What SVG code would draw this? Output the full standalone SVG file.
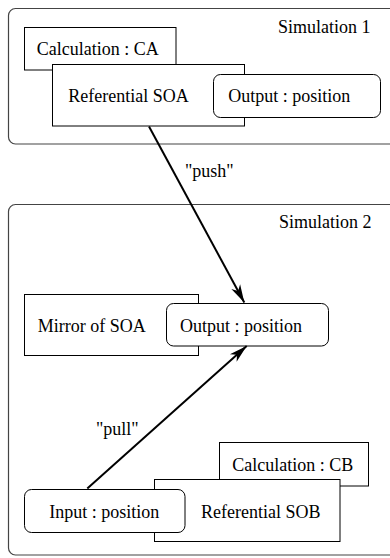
<svg xmlns="http://www.w3.org/2000/svg" width="390" height="558" viewBox="0 0 390 558">
<defs>
<style>
text{font-family:"Liberation Serif","Times New Roman",serif;font-size:18px;fill:#000}
.sim{fill:#fff;stroke:#444;stroke-width:1.2}
.box{fill:#fff;stroke:#000;stroke-width:1}
.port{fill:#fff;stroke:#000;stroke-width:1}
.conn{fill:none;stroke:#000;stroke-width:2}
</style>
<marker id="arr" markerUnits="userSpaceOnUse" markerWidth="22" markerHeight="14" viewBox="-19 -7 20 14" refX="0" refY="0" orient="auto">
<path d="M0,0 L-18,-5 L-13,0 L-18,5 Z" fill="#000"/>
</marker>
</defs>
<rect width="390" height="558" fill="#fff"/>
<g id="sim1">
<rect class="sim" x="8.5" y="8.5" width="400" height="135.5" rx="7"/>
<text x="278" y="33">Simulation 1</text>
</g>
<g id="calcCA">
<rect class="box" x="24.5" y="27.5" width="151.5" height="42.5"/>
<text x="36.7" y="55">Calculation : CA</text>
</g>
<g id="refSOA">
<rect class="box" x="52.5" y="64.5" width="192" height="61.5"/>
<text x="68.3" y="101.7">Referential SOA</text>
</g>
<g id="outSOA">
<rect class="port" x="213.5" y="74.5" width="167" height="43" rx="7"/>
<text x="228.3" y="101.7">Output : position</text>
</g>
<g id="sim2">
<rect class="sim" x="8.5" y="204.5" width="400" height="350.5" rx="7"/>
<text x="279" y="228">Simulation 2</text>
</g>
<g id="mirror">
<rect class="box" x="24.5" y="294.5" width="174" height="61"/>
<text x="37.7" y="331.7">Mirror of SOA</text>
</g>
<g id="outMirror">
<rect class="port" x="166.5" y="303.5" width="162" height="42.5" rx="7"/>
<text x="180" y="331.7">Output : position</text>
</g>
<g id="calcCB">
<rect class="box" x="219.5" y="442.5" width="149" height="43.5"/>
<text x="232.3" y="471">Calculation : CB</text>
</g>
<g id="refSOB">
<rect class="box" x="154.5" y="479.5" width="185.5" height="62"/>
<text x="201" y="517.7">Referential SOB</text>
</g>
<g id="inSOB">
<rect class="port" x="24.5" y="489.5" width="160.5" height="43" rx="7"/>
<text x="49.3" y="517.7">Input : position</text>
</g>
<g id="connectors">
<line class="conn" x1="149" y1="126.5" x2="244.3" y2="302.5" marker-end="url(#arr)"/>
<text x="185" y="177">"push"</text>
<line class="conn" x1="87.3" y1="488.5" x2="246.7" y2="346" marker-end="url(#arr)"/>
<text x="96" y="435">"pull"</text>
</g>
</svg>
